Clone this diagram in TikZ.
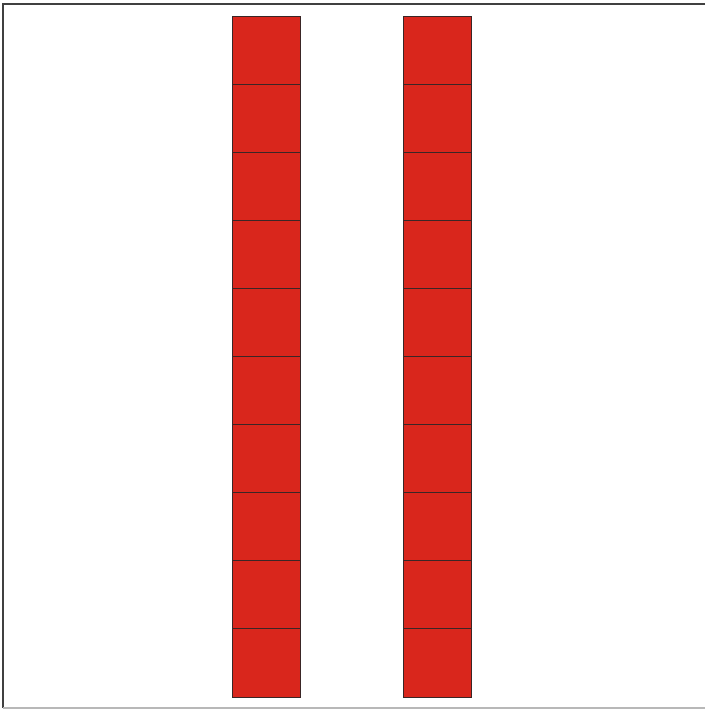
\documentclass[tikz,border=0pt]{standalone}
\usetikzlibrary{positioning}
\definecolor{cellred}{HTML}{D9261C}
\definecolor{celledge}{HTML}{3A2626}
\definecolor{framedark}{HTML}{404040}
\definecolor{framelight}{HTML}{B8B8B8}
\begin{document}
\begin{tikzpicture}[x=1pt,y=-1pt,
  cell/.style={draw=celledge,fill=cellred,line width=0.9pt,minimum width=68pt,minimum height=68.1pt,inner sep=0pt,outer sep=0pt,anchor=north west}]
\useasboundingbox (0,0) rectangle (705,709);
\fill[white] (0,0) rectangle (705,709);
\draw[framedark,line width=1.3pt] (705,4) -- (3,4) -- (3,708);
\draw[framelight,line width=1.2pt] (3,708) -- (705,708);
\foreach \i in {0,...,9}{
  \node[cell] (L\i) at (232,{16+68.1*\i}) {};
  \node[cell] (R\i) at (403,{16+68.1*\i}) {};
}
\end{tikzpicture}
\end{document}
